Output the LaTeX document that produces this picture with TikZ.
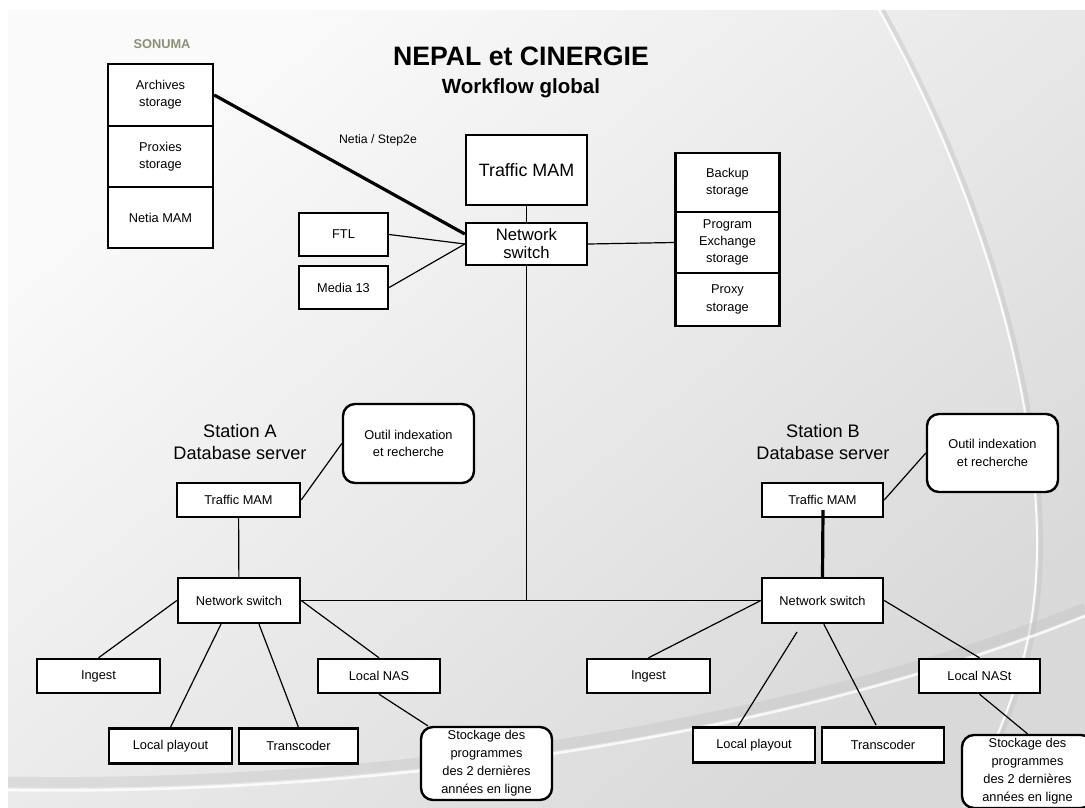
\documentclass[tikz,border=0pt]{standalone}
\usepackage{fontspec}
\setmainfont{Liberation Sans}
\definecolor{sonuma}{RGB}{138,144,120}

\begin{document}
\begin{tikzpicture}[x=0.75pt,y=-0.75pt,
  box/.style={draw,line width=1.8pt,fill=white,align=center,inner sep=1pt,font=\fontsize{9.6}{13}\selectfont},
  rbox/.style={box,rounded corners=9pt},
  wire/.style={line width=0.9pt},
  bigwire/.style={line width=2.4pt},
  station/.style={align=center,font=\fontsize{13.6}{17}\selectfont}]
\useasboundingbox (0,0) rectangle (1085,807);
\clip (0,0) rectangle (1085,807);

% Background ..
\fill[white] (0,0) rectangle (1085,807);
\shade[top color=gray!4,bottom color=gray!30,shading angle=40] (8,10) rectangle (1085,807);
\draw[gray!45,line width=3,opacity=.5] (883,10) .. controls (1000,220) and (1055,450) .. (1038,600) .. controls (1028,690) and (990,760) .. (968,807);
\draw[white,line width=1.5,opacity=.9] (879,10) .. controls (996,220) and (1051,450) .. (1034,600) .. controls (1024,690) and (986,760) .. (964,807);
\draw[gray!50,line width=8,opacity=.35] (8,782) .. controls (400,788) and (800,723) .. (1085,608);
\draw[white,line width=2,opacity=.8] (8,790) .. controls (400,796) and (800,731) .. (1085,616);

% Titles
\node[font=\bfseries\fontsize{20}{24}\selectfont] (title) at (521,56) {NEPAL et CINERGIE};
\node[font=\bfseries\fontsize{15.4}{18}\selectfont] (subtitle) at (521,88) {Workflow global};
\node[font=\bfseries\fontsize{9.6}{12}\selectfont,text=sonuma] (sonuma) at (162,44) {SONUMA};
\node[font=\fontsize{9.2}{11}\selectfont] (netialab) at (378,140) {Netia / Step2e};

% SONUMA storage
\node[box,minimum width=78.75pt,minimum height=46.5pt] (arch) at (160.5,95) {Archives\\storage};
\node[box,minimum width=78.75pt,minimum height=45.75pt] (prox) at (160.5,156.5) {Proxies\\storage};
\node[box,minimum width=78.75pt,minimum height=45.75pt] (netia) at (160.5,217.5) {Netia MAM};

% Central part
\node[box,minimum width=90.75pt,minimum height=52.5pt,font=\fontsize{13.4}{16}\selectfont] (tmam) at (526.5,170) {Traffic MAM};
\node[box,minimum width=90.75pt,minimum height=31.5pt,font=\fontsize{12.5}{13.5}\selectfont] (sw) at (526.5,244) {Network\\switch};
\node[box,minimum width=66.75pt,minimum height=32.25pt] (ftl) at (343.5,234.5) {FTL};
\node[box,minimum width=66.75pt,minimum height=32.25pt] (media) at (343.5,287.5) {Media 13};
\node[box,minimum width=78pt,minimum height=44.25pt] (backup) at (727.5,182.5) {Backup\\storage};
\node[box,minimum width=78pt,minimum height=45.75pt] (pex) at (727.5,242.5) {Program\\Exchange\\storage};
\node[box,minimum width=78pt,minimum height=39.75pt] (pxy) at (727.5,299.5) {Proxy\\storage};

% Station A
\node[station] (staA) at (240,442) {Station A\\Database server};
\node[rbox,minimum width=98.25pt,minimum height=59.25pt] (outA) at (408.5,443.5) {Outil indexation\\et recherche};
\node[box,minimum width=92.25pt,minimum height=25.5pt] (tmA) at (238.5,500) {Traffic MAM};
\node[box,minimum width=91.5pt,minimum height=33.75pt] (swA) at (239,600.5) {Network switch};
\node[box,minimum width=92.25pt,minimum height=25.5pt] (ingA) at (98.5,676) {Ingest};
\node[box,minimum width=91.5pt,minimum height=25.5pt] (nasA) at (379,676) {Local NAS};
\node[box,minimum width=92.25pt,minimum height=26.25pt] (lpA) at (170.5,746) {Local playout};
\node[box,minimum width=89.25pt,minimum height=26.25pt] (trA) at (298.5,746) {Transcoder};
\node[rbox,minimum width=98.25pt,minimum height=54.75pt,font=\fontsize{9.6}{13.5}\selectfont] (stA) at (486.5,763.5) {Stockage des\\programmes\\des 2 dernières\\années en ligne};

% Station B
\node[station] (staB) at (823,442) {Station B\\Database server};
\node[rbox,minimum width=98.25pt,minimum height=58.5pt] (outB) at (992.5,453) {Outil indexation\\et recherche};
\node[box,minimum width=90.75pt,minimum height=25.5pt] (tmB) at (822.5,500) {Traffic MAM};
\node[box,minimum width=90.75pt,minimum height=33.75pt] (swB) at (822.5,600.5) {Network switch};
\node[box,minimum width=92.25pt,minimum height=25.5pt] (ingB) at (648.5,676) {Ingest};
\node[box,minimum width=90.75pt,minimum height=25.5pt] (nasB) at (979.5,676) {Local NASt};
\node[box,minimum width=91.5pt,minimum height=26.25pt] (lpB) at (754,745) {Local playout};
\node[box,minimum width=91.5pt,minimum height=26.25pt] (trB) at (883,745) {Transcoder};
\node[rbox,minimum width=98.25pt,minimum height=54.75pt,font=\fontsize{9.6}{13.5}\selectfont] (stB) at (1027.5,771.5) {Stockage des\\programmes\\des 2 dernières\\années en ligne};

% Links, top
\draw[wire] (tmam) -- (sw);
\draw[bigwire] (arch.east) -- ([yshift=7.5pt]sw.west); % Netia / Step2e
\draw[wire] (ftl.east) -- (sw.west);
\draw[wire] (media.east) -- (sw.west);
\draw[wire] (sw.east) -- (pex.west);
\draw[wire] (sw.south) -- (sw.south |- swA.east) coordinate (jn);
\draw[wire] (swA.east) -- (swB.west);

% Links, station A
\draw[wire] (tmA.east) -- (outA.west);
\draw[wire] (tmA) -- (swA);
\draw[wire] (swA.west) -- (ingA.north);
\draw[wire] ([xshift=-13.5pt]swA.south) -- (lpA.north);
\draw[wire] ([xshift=15pt]swA.south) -- (trA.north);
\draw[wire] (swA.east) -- (nasA.north);
\draw[wire] (nasA.south) -- ([xshift=6pt]stA.north west);

% Links, station B
\coordinate (tmBin) at (823,510);
\coordinate (gapB) at (797,632);
\coordinate (endB) at (876,725);
\draw[wire] (tmB.east) -- (outB.west);
\draw[bigwire] (tmBin) -- (swB.north);
\draw[wire] (swB.west) -- (ingB.north);
\draw[wire] (gapB) -- ([xshift=-12pt]lpB.north);
\draw[wire] ([xshift=1pt]swB.south) -- (endB);
\draw[wire] (swB.east) -- (nasB.north);
\draw[wire] (nasB.south) -- (stB.north);
\end{tikzpicture}
\end{document}
